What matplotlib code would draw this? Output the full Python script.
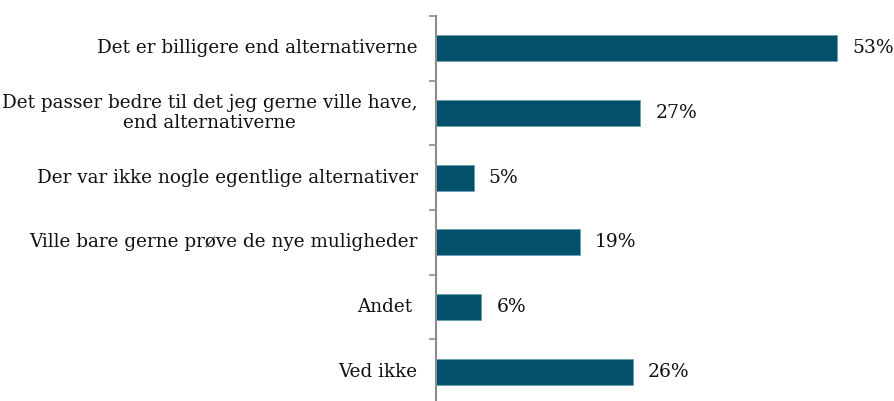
import numpy as np
import matplotlib.pyplot as plt

### ------------- data
categories = [
    "Det er billigere end alternativerne",
    "Det passer bedre til det jeg gerne ville have,\nend alternativerne",
    "Der var ikke nogle egentlige alternativer",
    "Ville bare gerne prøve de nye muligheder",
    "Andet ",
    "Ved ikke",
]
values = [53, 27, 5, 19, 6, 26]

bar_color = "#03506b"
axis_grey = "#8c8c8c"

plt.rcParams['font.family'] = ['DejaVu Serif']

fig = plt.figure(figsize=(8.95, 4.01), dpi=100)
ax = fig.add_axes([0.487, -0.0075, 0.5075, 0.9675])

y = np.arange(len(categories))
ax.barh(y, values, height=0.4, color=bar_color, edgecolor="#6b9fb3", linewidth=0.6)

for yi, v in zip(y, values):
    ax.text(v + 2, yi, f"{v}%", va="center", ha="left", fontsize=13.5, color="#111111")

ax.set_xlim(0, 60)
ax.set_ylim(len(categories) - 0.5, -0.5)

# category labels are drawn as text so the tick marks can sit between them
ax.set_yticks(np.arange(len(categories) + 1) - 0.5)
ax.set_yticklabels([])
ax.tick_params(axis="y", length=5, width=1.2, color=axis_grey, direction="out")
for yi, lab in zip(y, categories):
    ax.text(-0.04, yi, lab, transform=ax.get_yaxis_transform(), ha="right", va="center",
            multialignment="center", fontsize=13.2, color="#111111", linespacing=1.1)

ax.set_xticks([])
for side in ["top", "right", "bottom"]:
    ax.spines[side].set_visible(False)
ax.spines["left"].set_color(axis_grey)
ax.spines["left"].set_linewidth(1.5)

fig.savefig("out.png", dpi=100)
